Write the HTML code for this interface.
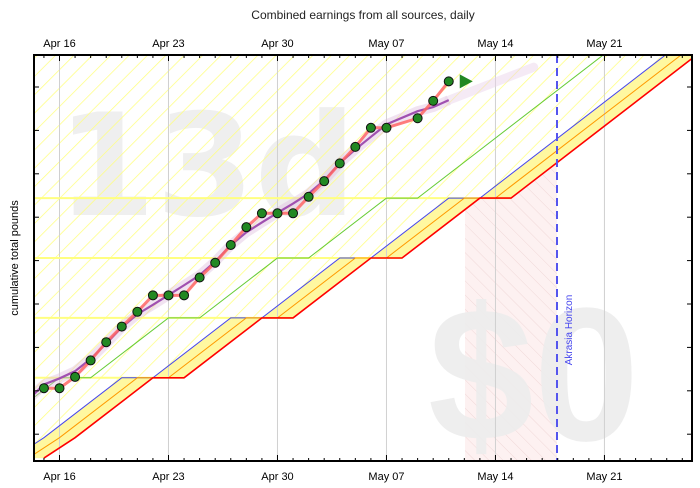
<!DOCTYPE html>
<html><head><meta charset="utf-8"><style>
body{margin:0;background:#fff;}
svg{display:block;font-family:"Liberation Sans",sans-serif;}
</style></head><body>
<svg id="chart" width="700" height="488" viewBox="0 0 700 488">
<defs>
<clipPath id="plotclip"><rect x="34" y="55" width="658" height="406"/></clipPath>
<pattern id="yhatch" width="13" height="13" patternUnits="userSpaceOnUse" patternTransform="rotate(45)">
<line x1="0" y1="0" x2="0" y2="13" stroke="#ffff80" stroke-width="1.5"/></pattern>
<pattern id="phatch" width="10" height="10" patternUnits="userSpaceOnUse" patternTransform="rotate(-45)">
<line x1="0" y1="0" x2="0" y2="10" stroke="#f0d8d8" stroke-width="1"/></pattern>
</defs>
<text x="363" y="19" font-size="12" text-anchor="middle" fill="#222">Combined earnings from all sources, daily</text>
<text transform="translate(18,258) rotate(-90)" font-size="11" text-anchor="middle" fill="#000">cumulative total pounds</text>
<g id="plot" clip-path="url(#plotclip)"></g>
<g id="axes"></g>
</svg>
<script>
const dataDays=[-1,0,1,2,3,4,5,6,7,8,9,10,11,12,13,14,15,16,17,18,19,20,21,23,24,25];
const dataVals=[2.06,2.06,2.32,2.70,3.12,3.48,3.82,4.20,4.20,4.20,4.61,4.95,5.36,5.77,6.09,6.09,6.09,6.47,6.83,7.24,7.62,8.06,8.06,8.28,8.68,9.13];
const roadDays=[-1,1,6,8,13,15,20,22,27,29,41];
const roadVals=[0.45,0.92,2.30,2.30,3.68,3.68,5.06,5.06,6.44,6.44,9.76];
const tickLabels=["Apr 16","Apr 23","Apr 30","May 07","May 14","May 21"];
const tickDays=[0,7,14,21,28,35];
const yTicks=[1,2,3,4,5,6,7,8,9];
const X=d=>59.5+d*15.57, Y=v=>477.6-43.4*v;
const NS="http://www.w3.org/2000/svg";
const plot=document.getElementById('plot'), axes=document.getElementById('axes');
function mk(tag,attrs,parent){const e=document.createElementNS(NS,tag);for(const k in attrs)e.setAttribute(k,attrs[k]);parent.appendChild(e);return e;}
function roadPts(shift){return roadDays.map((d,i)=>[X(d-shift),Y(roadVals[i])]);}
function interp(d){for(let i=0;i<roadDays.length-1;i++){if(d>=roadDays[i]&&d<=roadDays[i+1]){return roadVals[i]+(roadVals[i+1]-roadVals[i])*(d-roadDays[i])/(roadDays[i+1]-roadDays[i]);}}return roadVals[roadVals.length-1];}
const L=34,R=692,T=55,B=461;
// pink akrasia region (behind)
let pk=[];for(let x=465;x<=557;x+=2){let d=(x-59.5)/15.57;pk.push([x,Y(interp(d))]);}
let e=mk('path',{d:"M465,"+B+" "+pk.map(p=>"L"+p.join(",")).join(" ")+" L557,"+B+"Z",fill:"#fdeeee","fill-opacity":"0.8"},plot);

e=mk('path',{d:"M465,"+B+" "+pk.map(p=>"L"+p.join(",")).join(" ")+" L557,"+B+"Z",fill:"url(#phatch)"},plot);

// watermarks
e=mk('text',{x:57,y:215,"font-size":142,"font-weight":"bold","font-family":"DejaVu Sans, sans-serif",fill:"#efefef"},plot);e.textContent="13d";

e=mk('text',{x:428,y:440,"font-size":190,"font-weight":"bold","font-family":"Liberation Sans, sans-serif",fill:"#ececec","fill-opacity":"0.9"},plot);e.textContent="$0";

// hatch above red
let red=roadPts(0);
let hp="M"+L+","+red[0][1]+" "+red.map(p=>p.join(",")).join(" ")+" L"+R+","+T+" L"+L+","+T+"Z";
e=mk('path',{d:hp,fill:"url(#yhatch)"},plot);

// yellow band between red and blue
let blue=roadPts(2);
e=mk('path',{d:"M"+blue.map(p=>p.join(",")).join(" L")+" L"+red.slice().reverse().map(p=>p.join(",")).join(" L")+"Z",fill:"#fff8a0"},plot);

// grid
tickDays.forEach(d=>{let g=mk('line',{x1:X(d),x2:X(d),y1:T,y2:B,stroke:"#d0d0d0","stroke-width":1},plot);
});
// horizontal yellow flats
for(let i=0;i<roadDays.length-1;i++){if(roadVals[i]===roadVals[i+1]){
 e=mk('line',{x1:L,x2:X(roadDays[i+1]),y1:Y(roadVals[i]),y2:Y(roadVals[i]),stroke:"#ffff80","stroke-width":2},plot);
 }}
// lanes
[[6,"#6c3","green-lane",1],[2,"#44e","blue-lane",1],[1,"#f90","orange-lane",1],[0,"#f00","red-road",1.6]].forEach(([s,c,n,w])=>{
 e=mk('polyline',{points:roadPts(s).map(p=>p.join(",")).join(" "),fill:"none",stroke:c,"stroke-width":w},plot);
 });
// moving average
const avg=dataVals.map((v,i)=>{let a=Math.max(0,i-2),b=Math.min(dataVals.length-1,i+2),s=0;for(let j=a;j<=b;j++)s+=dataVals[j];return s/(b-a+1);});
let ap=dataDays.map((d,i)=>[X(d),Y(avg[i])]);
ap.unshift([X(-2),Y(avg[0]-0.35)]);
const n=ap.length,sl=(ap[n-1][1]-ap[n-4][1])/(ap[n-1][0]-ap[n-4][0]);
e=mk('polyline',{points:ap.map(p=>p.join(",")).join(" "),fill:"none",stroke:"#e0c0e0","stroke-opacity":"0.45","stroke-width":10,"stroke-linejoin":"round"},plot);

e=mk('line',{x1:ap[n-1][0],y1:ap[n-1][1],x2:ap[n-1][0]+85,y2:ap[n-1][1]+sl*85,stroke:"#e8d0e8","stroke-opacity":"0.45","stroke-width":9,"stroke-linecap":"round"},plot);

e=mk('polyline',{points:ap.map(p=>p.join(",")).join(" "),fill:"none",stroke:"#a050b0","stroke-width":2.2},plot);

// data line
e=mk('polyline',{points:dataDays.map((d,i)=>X(d)+","+Y(dataVals[i])).join(" "),fill:"none",stroke:"#ff6666","stroke-opacity":"0.85","stroke-width":3},plot);

dataDays.forEach((d,i)=>{let c=mk('circle',{cx:X(d),cy:Y(dataVals[i]),r:4.5,fill:"#228822",stroke:"#111","stroke-width":1},plot);

});
// triangle
let tx=X(dataDays[dataDays.length-1])+11,ty=Y(dataVals[dataVals.length-1]);
e=mk('polygon',{points:(tx)+","+(ty-7)+" "+(tx+13)+","+ty+" "+tx+","+(ty+7),fill:"#228822"},plot);

// horizon
e=mk('line',{x1:557,x2:557,y1:T,y2:B,stroke:"#5555ee","stroke-width":2,"stroke-dasharray":"8,5"},plot);

e=mk('text',{transform:"translate(572,330) rotate(-90)","font-size":10,"text-anchor":"middle",fill:"#4444ee"},plot);e.textContent="Akrasia Horizon";

// axes
e=mk('rect',{x:L,y:T,width:R-L,height:B-T,fill:"none",stroke:"#000","stroke-width":2},axes);

for(let d=-1;d<=40;d++){let x=X(d);if(x<L||x>R)continue;let big=tickDays.includes(d)?6:3;
 mk('line',{x1:x,x2:x,y1:T,y2:T+big,stroke:"#000"},axes);mk('line',{x1:x,x2:x,y1:B,y2:B-big,stroke:"#000"},axes);}
yTicks.forEach(v=>{mk('line',{x1:L,x2:L+5,y1:Y(v),y2:Y(v),stroke:"#000"},axes);mk('line',{x1:R,x2:R-5,y1:Y(v),y2:Y(v),stroke:"#000"},axes);});
tickDays.forEach((d,i)=>{
 let t=mk('text',{x:X(d),y:47,"font-size":11,"text-anchor":"middle",fill:"#000"},axes);t.textContent=tickLabels[i];
 
 let b=mk('text',{x:X(d),y:480,"font-size":11,"text-anchor":"middle",fill:"#000"},axes);b.textContent=tickLabels[i];
 });
</script>
</body></html>
